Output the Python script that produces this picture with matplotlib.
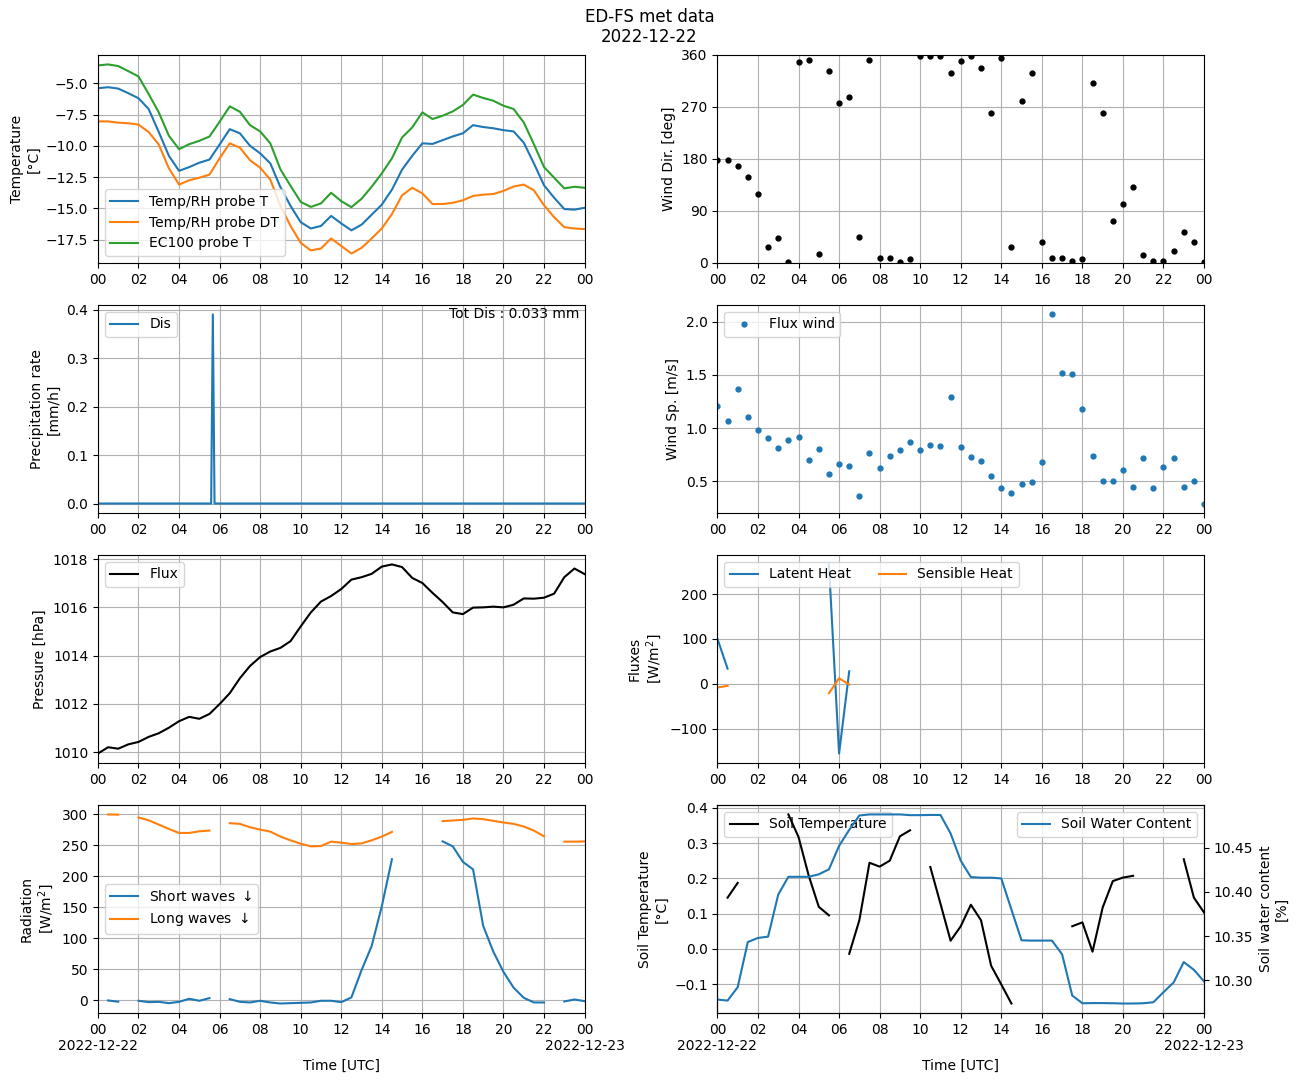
import numpy as np
import pandas as pd
import matplotlib
matplotlib.use("Agg")
import matplotlib.pyplot as plt
import matplotlib.dates as mdates

nan = np.nan

# 30 min time axis for the day
times = pd.date_range("2022-12-22 00:00", "2022-12-23 00:00", freq="30min")

# Air temperature [degC]
temp_rh_t = [-5.40, -5.32, -5.43, -5.8, -6.2, -7.06, -8.9, -10.8, -12.0, -11.7,
             -11.35, -11.1, -9.9, -8.67, -9.0, -10.0, -10.6, -11.4, -13.3, -14.8,
             -16.1, -16.6, -16.4, -15.6, -16.2, -16.75, -16.3, -15.5, -14.7, -13.5,
             -11.9, -10.8, -9.8, -9.85, -9.55, -9.25, -9.0, -8.35, -8.5, -8.6,
             -8.75, -8.85, -9.75, -11.4, -13.15, -14.15, -15.05, -15.1, -14.95]
temp_rh_dt = [-8.05, -8.05, -8.15, -8.2, -8.3, -8.9, -9.9, -11.8, -13.1, -12.75,
              -12.55, -12.3, -11.0, -9.8, -10.15, -11.15, -11.75, -12.7, -14.8, -16.4,
              -17.75, -18.35, -18.2, -17.4, -18.0, -18.6, -18.15, -17.4, -16.6, -15.45,
              -13.95, -13.35, -13.8, -14.65, -14.65, -14.55, -14.35, -14.0, -13.9, -13.85,
              -13.6, -13.25, -13.1, -13.55, -14.75, -15.7, -16.5, -16.6, -16.65]
ec100_t = [-3.58, -3.5, -3.63, -4.04, -4.46, -5.86, -7.33, -9.2, -10.27, -9.87,
           -9.6, -9.26, -8.08, -6.85, -7.28, -8.35, -8.85, -9.8, -11.88, -13.2,
           -14.48, -14.88, -14.6, -13.75, -14.42, -14.9, -14.23, -13.27, -12.2, -11.0,
           -9.33, -8.53, -7.33, -7.86, -7.6, -7.25, -6.74, -5.91, -6.18, -6.4,
           -6.8, -7.06, -8.13, -9.87, -11.7, -12.55, -13.4, -13.27, -13.35]

# Wind direction [deg] and speed [m/s]
wind_dir = [178, 178, 168, 149, 120, 28, 43, 1, 347, 351,
            16, 332, 276, 288, 45, 352, 9, 9, 1, 7,
            359, 358, 358, 328, 349, 359, 337, 260, 354, 28,
            281, 328, 36, 9, 9, 4, 7, 312, 260, 73,
            102, 132, 14, 4, 4, 21, 54, 36, 2]
wind_sp = [1.21, 1.07, 1.37, 1.10, 0.98, 0.91, 0.81, 0.89, 0.92, 0.70,
           0.80, 0.57, 0.66, 0.64, 0.36, 0.77, 0.62, 0.74, 0.79, 0.87,
           0.79, 0.84, 0.83, 1.29, 0.82, 0.73, 0.69, 0.55, 0.44, 0.39,
           0.47, 0.49, 0.68, 2.07, 1.52, 1.51, 1.18, 0.74, 0.50, 0.50,
           0.61, 0.45, 0.72, 0.44, 0.63, 0.72, 0.45, 0.50, 0.29]

# Precipitation (disdrometer) [mm/h]
precip_times = pd.to_datetime(["2022-12-22 00:00", "2022-12-22 05:35", "2022-12-22 05:40",
                               "2022-12-22 05:45", "2022-12-23 00:00"])
precip_rate = [0.0, 0.0, 0.39, 0.0, 0.0]
precip_total = 0.033

# Pressure [hPa]
pressure = [1009.94, 1010.2, 1010.14, 1010.32, 1010.42, 1010.63, 1010.78, 1011.01, 1011.28, 1011.46,
            1011.38, 1011.58, 1011.99, 1012.44, 1013.06, 1013.57, 1013.94, 1014.17, 1014.32, 1014.6,
            1015.21, 1015.79, 1016.24, 1016.47, 1016.76, 1017.15, 1017.25, 1017.39, 1017.69, 1017.78,
            1017.67, 1017.22, 1017.01, 1016.6, 1016.22, 1015.79, 1015.72, 1015.99, 1016.0, 1016.03,
            1016.0, 1016.11, 1016.37, 1016.36, 1016.4, 1016.57, 1017.25, 1017.61, 1017.38]

# Turbulent fluxes [W/m2]
latent_heat = [100.7, 34, nan, nan, nan, nan, nan, nan, nan, nan,
               nan, 266, -155, 28, nan, nan, nan, nan, nan, nan,
               nan, nan, nan, nan, nan, nan, nan, nan, nan, nan,
               nan, nan, nan, nan, nan, nan, nan, nan, nan, nan,
               nan, nan, nan, nan, nan, nan, nan, nan, nan]
sensible_heat = [-8, -4.4, nan, nan, nan, nan, nan, nan, nan, nan,
                 nan, -20.7, 12.6, -1.5, nan, nan, nan, nan, nan, nan,
                 nan, nan, nan, nan, nan, nan, nan, nan, nan, nan,
                 nan, nan, nan, nan, nan, nan, nan, nan, nan, nan,
                 nan, nan, nan, nan, nan, nan, nan, nan, nan]

# Radiation [W/m2]
short_waves = [nan, 0, -2, nan, -0.5, -2.7, -2.2, -4.3, -2.2, 2.7,
               -0.5, 3.8, nan, 2.2, -2.2, -3.2, -0.5, -3.2, -4.9, -4.3,
               -3.8, -3.2, -0.5, -0.5, -2.7, 4.9, 48.7, 87.7, 151.6, 227.4,
               nan, nan, nan, nan, 256, 248, 223, 211, 120, 78.5,
               46, 20.6, 4.3, -3.2, -3.2, nan, -1.6, 1.6, -1.1]
long_waves = [nan, 299.4, 299, nan, 294.5, 290, 283, 276, 269.6, 269.6,
              272.3, 273.4, nan, 285.3, 284.2, 278.8, 275, 271.8, 263.7, 257.7,
              252.3, 248, 248.5, 255.6, 254, 251.8, 252.8, 257.7, 263.7, 271.3,
              nan, nan, nan, nan, 288.6, 289.7, 290.7, 292.9, 291.8, 289.1,
              286.4, 284.2, 279.9, 273.4, 264.2, nan, 255.6, 255.6, 256]

# Soil temperature [degC] and water content [%]
soil_temp = [nan, 0.145, 0.187, nan, nan, nan, nan, 0.381, 0.317, 0.208,
             0.119, 0.095, nan, -0.014, 0.081, 0.244, 0.233, 0.25, 0.319, 0.336,
             nan, 0.232, 0.128, 0.023, 0.064, 0.125, 0.081, -0.048, -0.101, -0.155,
             nan, nan, nan, nan, nan, 0.064, 0.075, -0.008, 0.117, 0.192,
             0.202, 0.207, nan, nan, nan, nan, 0.254, 0.145, 0.103]
soil_water = [10.2785, 10.2773, 10.2924, 10.3434, 10.348, 10.3495, 10.397, 10.417, 10.417, 10.417,
              10.4198, 10.4254, 10.4519, 10.47, 10.4862, 10.4874, 10.4874, 10.4874, 10.4874, 10.4866,
              10.4866, 10.4868, 10.4868, 10.466, 10.4352, 10.4167, 10.416, 10.416, 10.4152, 10.38,
              10.3453, 10.345, 10.345, 10.345, 10.3295, 10.283, 10.2743, 10.2745, 10.2745, 10.2743,
              10.274, 10.274, 10.2743, 10.2754, 10.2868, 10.2977, 10.3208, 10.312, 10.2989]


fig, axes = plt.subplots(4, 2, figsize=(12.99, 10.82), dpi=100)
fig.subplots_adjust(left=0.0754, right=0.9269, top=0.9492, bottom=0.0638,
                    wspace=0.273, hspace=0.202)
fig.suptitle("ED-FS met data\n2022-12-22", y=0.993)

# Temperature
ax = axes[0, 0]
ax.plot(times, temp_rh_t, label="Temp/RH probe T")
ax.plot(times, temp_rh_dt, label="Temp/RH probe DT")
ax.plot(times, ec100_t, label="EC100 probe T")
ax.set_ylabel("Temperature\n[°C]")
ax.legend(loc="lower left")

# Wind direction
ax = axes[0, 1]
ax.plot(times, wind_dir, "o", color="k", ms=3.5)
ax.set_ylim(0, 360)
ax.set_yticks([0, 90, 180, 270, 360])
ax.set_ylabel("Wind Dir. [deg]")

# Precipitation
ax = axes[1, 0]
ax.plot(precip_times, precip_rate, label="Dis")
ax.text(0.99, 0.99, f"Tot Dis : {precip_total} mm", transform=ax.transAxes,
        ha="right", va="top")
ax.set_ylabel("Precipitation rate\n[mm/h]")
ax.legend(loc="upper left")

# Wind speed
ax = axes[1, 1]
ax.plot(times, wind_sp, "o", ms=3.5, label="Flux wind")
ax.set_ylabel("Wind Sp. [m/s]")
ax.legend(loc="upper left")

# Pressure
ax = axes[2, 0]
ax.plot(times, pressure, color="k", label="Flux")
ax.set_ylabel("Pressure [hPa]")
ax.legend(loc="upper left")

# Fluxes
ax = axes[2, 1]
ax.plot(times, latent_heat, label="Latent Heat")
ax.plot(times, sensible_heat, label="Sensible Heat")
ax.set_ylabel("Fluxes\n[W/m$^2$]")
ax.legend(loc="upper left", ncol=2)

# Radiation
ax = axes[3, 0]
ax.plot(times, short_waves, label="Short waves $\\downarrow$")
ax.plot(times, long_waves, label="Long waves $\\downarrow$")
ax.set_ylabel("Radiation\n[W/m$^2$]")
ax.legend(loc="center left")

# Soil
ax = axes[3, 1]
ax.plot(times, soil_temp, color="k", label="Soil Temperature", zorder=6)
ax.set_ylabel("Soil Temperature\n[°C]")
ax.legend(loc="upper left")
ax2 = ax.twinx()
ax2.plot(times, soil_water, color="tab:blue", label="Soil Water Content")
ax2.set_ylabel("Soil water content\n[%]")
ax2.legend(loc="upper right")

for i, ax in enumerate(axes.flat):
    ax.set_xlim(times[0], times[-1])
    ax.xaxis.set_major_locator(mdates.HourLocator(interval=2))
    ax.xaxis.set_major_formatter(mdates.DateFormatter("%H"))
    ax.grid(True)
    if i >= 6:
        # dates under the midnight ticks
        ax.xaxis.remove_overlapping_locs = False
        ax.xaxis.set_minor_locator(mdates.DayLocator())
        ax.xaxis.set_minor_formatter(mdates.DateFormatter("%Y-%m-%d"))
        ax.tick_params(axis="x", which="minor", length=0, pad=19)
        ax.set_xlabel("Time [UTC]")

fig.savefig("out.png", dpi=100)
